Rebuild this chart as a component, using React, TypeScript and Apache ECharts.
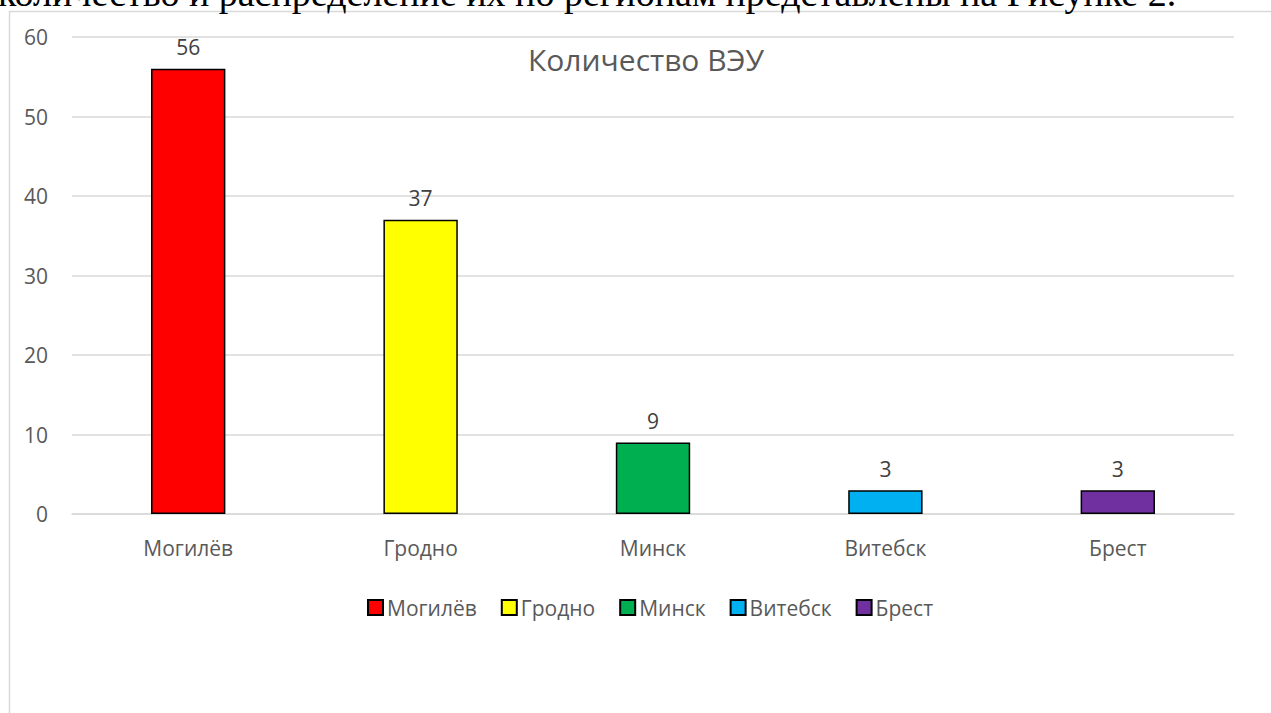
import React, { useEffect, useRef } from "react";
import * as echarts from "echarts";

const categories = ["Могилёв", "Гродно", "Минск", "Витебск", "Брест"];
const values = [56, 37, 9, 3, 3];
const colors = ["#FF0000", "#FFFF00", "#00B050", "#00B0F0", "#7030A0"];
const yTicks = { min: 0, max: 60, interval: 10 };
const chartTitle = "Количество ВЭУ";
const pageText = "количество и распределение их по регионам представлены на Рисунке 2.";

const FONT = "'Open Sans', 'Noto Sans', sans-serif";

export default function App() {
  const ref = useRef<HTMLDivElement>(null);
  useEffect(() => {
    if (!ref.current) return;
    const chart = echarts.init(ref.current, null, { renderer: "svg" });
    const series = categories.map((name, i) => ({
      name,
      type: "bar",
      stack: "all",
      barWidth: "32%",
      data: values.map((v, j) => (j === i ? v : "-")),
      itemStyle: { color: colors[i], borderColor: "#000", borderWidth: 1.5 },
      label: {
        show: true,
        position: "top",
        distance: 11,
        color: "#404040",
        fontSize: 21,
        fontFamily: FONT,
      },
    }));
    chart.setOption({
      animation: false,
      backgroundColor: "#fff",
      title: {
        text: chartTitle,
        left: 641,
        textAlign: "center",
        top: 39,
        textStyle: { color: "#595959", fontSize: 30, fontWeight: "normal", fontFamily: FONT },
      },
      legend: {
        data: categories,
        top: 592,
        left: 362,
        padding: 5,
        icon: "rect",
        itemWidth: 15,
        itemHeight: 15,
        itemGap: 24,
        textStyle: { color: "#595959", fontSize: 21, fontFamily: FONT, padding: [0, 0, 0, -1] },
      },
      grid: { left: 72, right: 37, top: 37, bottom: 199, containLabel: false },
      xAxis: {
        type: "category",
        data: categories,
        axisLine: { lineStyle: { color: "#d9d9d9", width: 1.5 } },
        axisTick: { show: false },
        axisLabel: { color: "#595959", fontSize: 21, fontFamily: FONT, margin: 23 },
      },
      yAxis: {
        type: "value",
        min: yTicks.min,
        max: yTicks.max,
        interval: yTicks.interval,
        axisLine: { show: false },
        axisTick: { show: false },
        splitLine: { lineStyle: { color: "#d9d9d9", width: 1.5 } },
        axisLabel: { color: "#595959", fontSize: 21, fontFamily: FONT, margin: 24 },
      },
      graphic: [
        {
          type: "rect",
          shape: { x: 9.5, y: 11.5, width: 1400, height: 900 },
          style: { fill: "none", stroke: "#d9d9d9", lineWidth: 1.5 },
          silent: true,
        },
        {
          type: "text",
          x: -2,
          y: 12,
          style: {
            text: pageText,
            fill: "#000",
            font: "38px 'Liberation Serif', 'DejaVu Serif', serif",
            textAlign: "left",
            textVerticalAlign: "bottom",
          },
          silent: true,
        },
      ],
      series,
    });
    return () => chart.dispose();
  }, []);
  return (
    <div
      ref={ref}
      style={{ position: "fixed", left: 0, top: 0, width: 1271, height: 713 }}
    />
  );
}
